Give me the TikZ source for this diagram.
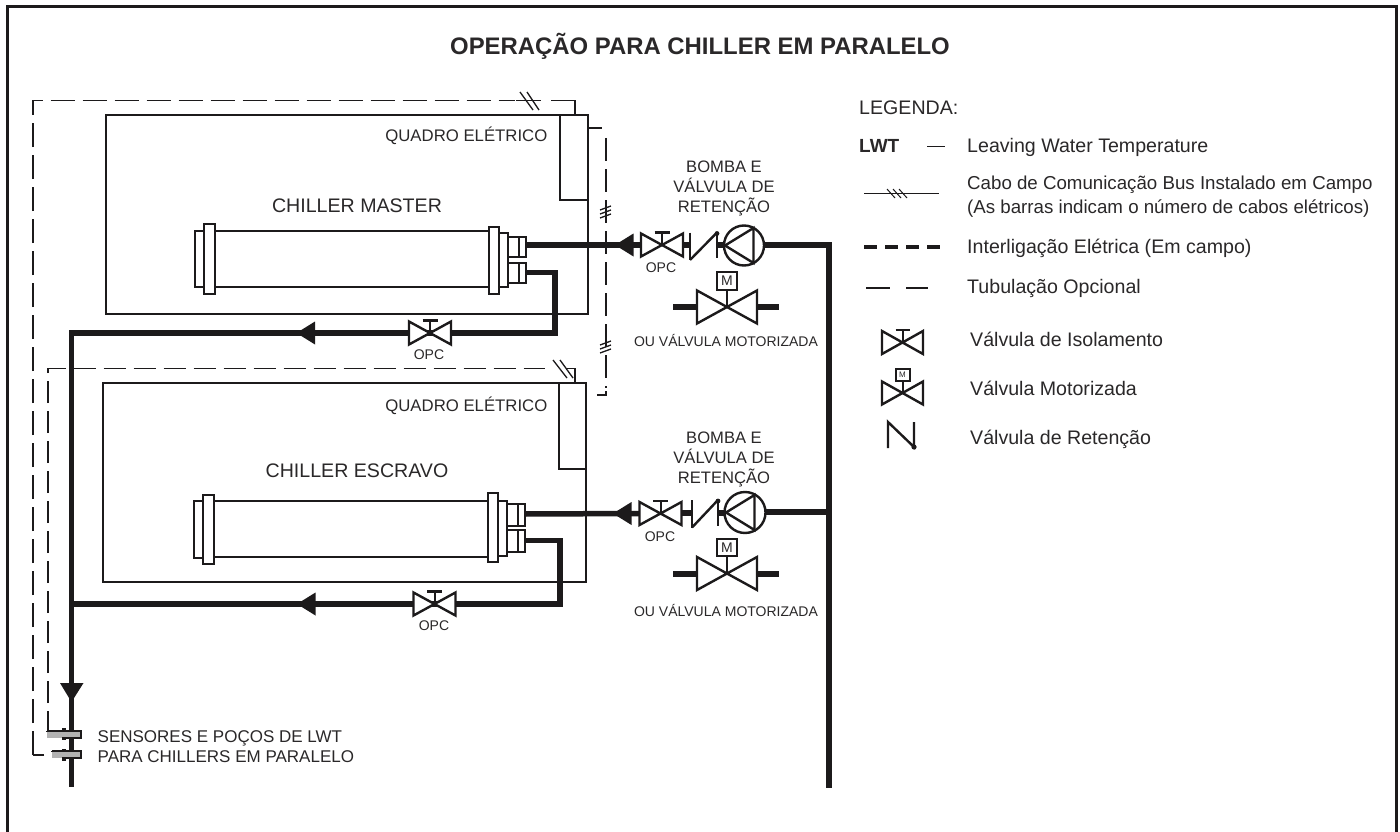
\documentclass[tikz,border=0pt]{standalone}
\usepackage{fontspec}
\setmainfont{Liberation Sans}
\usetikzlibrary{fit}
\definecolor{ink}{HTML}{1C1A1B}
\definecolor{txt}{HTML}{2A2829}
\tikzset{
  thin line/.style={draw=ink,line width=2pt},
  box/.style={draw=ink,line width=2pt,fill=white,inner sep=0pt,rectangle},
  plainbox/.style={draw=ink,line width=2pt,inner sep=0pt,rectangle},
  pipe/.style={draw=ink,line width=5.5pt},
  dashline/.style={draw=ink,line width=1.8pt,dash pattern=on 24pt off 8pt},
  wire/.style={draw=ink,line width=1.8pt},
  slash/.style={draw=ink,line width=1.3pt},
  lab/.style={text=txt,inner sep=0pt,font=\fontsize{16.75}{20}\selectfont,text height=12pt,text depth=0pt},
  big/.style={text=txt,inner sep=0pt,font=\fontsize{19.6}{23}\selectfont,text height=14pt,text depth=0pt},
  cab/.style={text=txt,inner sep=0pt,font=\fontsize{18.7}{22}\selectfont,text height=13.5pt,text depth=0pt},
  labs/.style={text=txt,inner sep=0pt,font=\fontsize{16.6}{20}\selectfont,text height=12pt,text depth=0pt},
  labo/.style={text=txt,inner sep=0pt,font=\fontsize{14}{17}\selectfont,text height=10pt,text depth=0pt},
}
\newcommand{\flowhead}[3]{\fill[ink,shift={(#1)},rotate=#2] (0,0) -- (18.5,-11.5) -- (18.5,11.5) -- cycle; \coordinate (#3) at (#1);}
\newcommand{\isovalve}[5]{\coordinate (#1) at (#2);
  \begin{scope}[shift={(#2)}]
  \draw[draw=ink,line width=2.4pt,fill=white,line join=miter] (-#3,-#4) -- (#3,#4) -- (#3,-#4) -- (-#3,#4) -- cycle;
  \draw[draw=ink,line width=2pt] (0,0) -- (0,-#4-1.2);
  \draw[draw=ink,line width=2.6pt] (-#5,-#4-1.2) -- (#5,-#4-1.2);
  \end{scope}}
\newcommand{\motvalve}[6]{\coordinate (#1) at (#2);
  \begin{scope}[shift={(#2)}]
  \draw[draw=ink,line width=2.4pt,fill=white,line join=miter] (-#3,-#4) -- (#3,#4) -- (#3,-#4) -- (-#3,#4) -- cycle;
  \draw[draw=ink,line width=2pt] (0,0) -- (0,-#4);
  \node[draw=ink,line width=2pt,fill=white,inner sep=0pt,minimum width=#5pt,minimum height=#5pt-2pt,anchor=south,text=txt] (#1m) at (0,-#4) {#6};
  \end{scope}}
\newcommand{\checkvalve}[6]{\coordinate (#1) at (#2);
  \begin{scope}[shift={(#2)}]
  \draw[draw=ink,line width=2.4pt] (0,#3) -- (0,#4);
  \draw[draw=ink,line width=2.4pt] (0,#4) -- (#5,#3);
  \draw[draw=ink,line width=2.4pt] (#5,#3) -- (#5,#6);
  \fill[ink] (#5,#3+1) circle (2.4pt);
  \end{scope}}
\newcommand{\pump}[3]{\coordinate (#1) at (#2);
  \begin{scope}[shift={(#2)}]
  \draw[draw=ink,line width=2.4pt,fill=white] (0,0) circle (#3pt);
  \draw[draw=ink,line width=2.4pt,line join=miter] (9.5,-17.5) -- (-19,0) -- (9.5,17.5) -- cycle;
  \end{scope}}
\begin{document}
\begin{tikzpicture}[x=1pt,y=-1pt]
\useasboundingbox (0,0) rectangle (1400,832);
\fill[white] (0,0) rectangle (1400,832);
% frame
\coordinate (fa) at (7.5,832); \coordinate (fb) at (7.5,7); \coordinate (fc) at (1396,7); \coordinate (fd) at (1396,832);
\draw[draw=ink,line width=3pt] (fa) -- (fb) -- (fc) -- (fd);
\node[text=txt,inner sep=0pt,font=\bfseries\fontsize{23.9}{28}\selectfont,text height=17pt,text depth=0pt] (title) at (700,46) {OPERAÇÃO PARA CHILLER EM PARALELO};

% chiller boxes
\coordinate (m1) at (106,115); \coordinate (m2) at (587.5,314);
\node[plainbox,fit={(m1)(m2)}] (master) {};
\coordinate (mp1) at (560,115); \coordinate (mp2) at (587.5,199.5);
\node[plainbox,fit={(mp1)(mp2)}] (mpanel) {};
\coordinate (s1) at (103,383); \coordinate (s2) at (586,582);
\node[plainbox,fit={(s1)(s2)}] (slave) {};
\coordinate (sp1) at (558.5,383); \coordinate (sp2) at (586,469);
\node[plainbox,fit={(sp1)(sp2)}] (spanel) {};

% field wiring
\coordinate (wa0) at (44,755); \coordinate (wa1) at (33,755); \coordinate (wa2) at (33,100.5); \coordinate (wa3) at (515,100.5);
\draw[wire] (wa0) -- (wa1);
\draw[dashline] (wa1) -- (wa2) -- (wa3);
\coordinate (wa4) at (516,100.5); \coordinate (wa5) at (541,100.5);
\draw[wire] (wa4) -- (wa5);
\coordinate (wa6) at (551,100.5); \coordinate (wa7) at (575,100.5); \coordinate (wa8) at (575,115);
\draw[wire] (wa6) -- (wa7) -- (wa8);
\draw[slash] (520,92) -- (533,110); \draw[slash] (527,92) -- (539,110);

\coordinate (wb0) at (48,733); \coordinate (wb1) at (48,368.5); \coordinate (wb2) at (545,368.5);
\draw[dashline,dash pattern=on 22pt off 8pt] (wb0) -- (wb1) -- (wb2);
\coordinate (wb3) at (566,368.5); \coordinate (wb4) at (575,368.5); \coordinate (wb5) at (575,383);
\draw[wire] (wb3) -- (wb4) -- (wb5);
\draw[slash] (553,360) -- (567,378); \draw[slash] (560,360) -- (573,378);

\coordinate (wc0) at (587.5,128); \coordinate (wc1) at (602,128);
\draw[wire] (wc0) -- (wc1);
\coordinate (wc2) at (606,138); \coordinate (wc3) at (606,388);
\draw[dashline,dash pattern=on 23pt off 8pt] (wc2) -- (wc3);
\coordinate (wc4) at (606,391); \coordinate (wc5) at (606,395); \coordinate (wc6) at (597,395);
\draw[wire] (wc4) -- (wc5) -- (wc6);
\foreach \y in {210,214,218}{\draw[slash] (600,\y) -- (611,\y-4);}
\foreach \y in {345,349,353}{\draw[slash] (600,\y) -- (611,\y-4);}

% pipes
\coordinate (mn1) at (526,245); \coordinate (mv1) at (641,245); \coordinate (mv2) at (683,245); \coordinate (mc1) at (690,245);
\coordinate (mc2) at (717,245); \coordinate (mp3) at (726,245); \coordinate (mp4) at (764,245); \coordinate (mj) at (829,245);
\coordinate (end2) at (829,788);
\draw[pipe] (mn1) -- (mv1); \draw[pipe] (mv2) -- (mc1); \draw[pipe] (mc2) -- (mp3);
\draw[pipe,line join=miter] (mp4) -- (mj) -- (end2);
\coordinate (mr1) at (526,272.5); \coordinate (mr2) at (555,272.5); \coordinate (mr3) at (555,333); \coordinate (mr4) at (71.5,333); \coordinate (end1) at (71.5,787);
\draw[pipe,line join=miter] (mr1) -- (mr2) -- (mr3) -- (mr4) -- (end1);
\coordinate (sn1) at (525,514); \coordinate (sv1) at (639,513.5); \coordinate (sv2) at (682,513); \coordinate (sc1) at (692,513);
\coordinate (sc2) at (718,513); \coordinate (sp3) at (726,513); \coordinate (sp4) at (765,512); \coordinate (sj) at (829,512);
\draw[pipe] (sn1) -- (sv1); \draw[pipe] (sv2) -- (sc1); \draw[pipe] (sc2) -- (sp3); \draw[pipe] (sp4) -- (sj);
\coordinate (sr1) at (525,540.5); \coordinate (sr2) at (560,540.5); \coordinate (sr3) at (560,604); \coordinate (sr4) at (71.5,604);
\draw[pipe,line join=miter] (sr1) -- (sr2) -- (sr3) -- (sr4);
\draw[pipe] (673,307) -- (697,307); \draw[pipe] (757,307) -- (779,307);
\draw[pipe] (673,574) -- (697,574); \draw[pipe] (757,574) -- (779,574);

% heat exchangers: master
\coordinate (mt1) at (215,231); \coordinate (mt2) at (489,287);
\node[plainbox,fit={(mt1)(mt2)}] (mtube) {};
\node[box,fit={(195,231)(204,287)}] (mcapl) {};
\node[box,fit={(204,224)(214.5,294)}] (mfll) {};
\node[box,fit={(489,227)(499,294)}] (mflr) {};
\node[box,fit={(499,233)(508,287)}] (mcapr) {};
\node[box,fit={(508,237)(526,256.5)}] (mnu) {};
\node[box,fit={(508,263)(526,283)}] (mnl) {};
\draw[thin line] (mnu.north) ++(2,0) -- ++(0,19.5);
\draw[thin line] (mnl.north) ++(2,0) -- ++(0,20);
% slave
\coordinate (st1) at (213,501); \coordinate (st2) at (488,557);
\node[plainbox,fit={(st1)(st2)}] (stube) {};
\node[box,fit={(194,501)(203,558)}] (scapl) {};
\node[box,fit={(203,495)(213.5,564)}] (sfll) {};
\node[box,fit={(488,493)(498,562)}] (sflr) {};
\node[box,fit={(498,501)(507,556)}] (scapr) {};
\node[box,fit={(507,504)(525,526)}] (snu) {};
\node[box,fit={(507,530)(525,552)}] (snl) {};
\draw[thin line] (snu.north) ++(2,0) -- ++(0,22);
\draw[thin line] (snl.north) ++(2,0) -- ++(0,22);

% flow arrows
\flowhead{615,245}{0}{ha1}
\flowhead{296.5,333}{0}{ha2}
\flowhead{613,513.5}{0}{ha3}
\flowhead{297,604}{0}{ha4}
\coordinate (hb1) at (60,683); \coordinate (hb2) at (83.5,683); \coordinate (hb3) at (71.5,702);
\fill[ink] (hb1) -- (hb2) -- (hb3) -- cycle;

% valves
\isovalve{v1}{662,245}{21}{11.5}{7.5}
\isovalve{v2}{430,333}{21}{11.5}{7.5}
\isovalve{v3}{660.5,513.5}{21}{11.5}{7.5}
\isovalve{v4}{434.5,604}{21}{11.5}{7.5}
\checkvalve{c1}{690,245}{-12.5}{15}{27}{13}
\checkvalve{c2}{692,513}{-13}{14.5}{26}{13}
\pump{p1}{744,245.5}{20}
\pump{p2}{745,512.5}{20.5}
\motvalve{mvv}{727,307}{30}{16.5}{19.5}{\fontsize{14}{14}\selectfont M}
\motvalve{svv}{727,573.5}{30}{16.5}{19.5}{\fontsize{14}{14}\selectfont M}

% LWT sensors
\foreach \ya/\yb/\xa in {730.7/737.7/47,751/758/52}{
  \fill[black!30] (\xa,\ya) rectangle (81,\yb);
  \draw[draw=ink,line width=1.6pt] (\xa,\ya) -- (81,\ya) -- (81,\yb) -- (62,\yb);
  \draw[draw=ink,line width=1.6pt] (\xa,\ya) -- (\xa,\ya+1) ;
  \fill[ink] (62,\ya-2.5) rectangle (65.5,\ya+1);
  \fill[ink] (62,\yb-1) rectangle (65.5,\yb+2.5);
}
% labels
\node[lab,anchor=east] (lq1) at (547.5,135.5) {QUADRO ELÉTRICO};
\node[lab,anchor=east] (lq2) at (547.5,405.5) {QUADRO ELÉTRICO};
\node[big] (lcm) at (357,205) {CHILLER MASTER};
\node[big] (lcs) at (357,470) {CHILLER ESCRAVO};
\node[labs] (b1) at (724,166) {BOMBA E};
\node[labs] (b2) at (724,186) {VÁLVULA DE};
\node[labs] (b3) at (724,206) {RETENÇÃO};
\node[labs] (b4) at (724,437) {BOMBA E};
\node[labs] (b5) at (724,457) {VÁLVULA DE};
\node[labs] (b6) at (724,477) {RETENÇÃO};
\node[labo] (o1) at (661,267) {OPC};
\node[labo] (o2) at (429,354) {OPC};
\node[labo] (o3) at (660,536) {OPC};
\node[labo] (o4) at (434,625) {OPC};
\node[labo] (u1) at (726,341) {OU VÁLVULA MOTORIZADA};
\node[labo] (u2) at (726,611) {OU VÁLVULA MOTORIZADA};
\node[labs,anchor=west,font=\fontsize{17}{20}\selectfont] (se1) at (97.5,736) {SENSORES E POÇOS DE LWT};
\node[labs,anchor=west,font=\fontsize{17}{20}\selectfont] (se2) at (97.5,756) {PARA CHILLERS EM PARALELO};

% legend
\node[big,anchor=west] (lg) at (859,108) {LEGENDA:};
\node[big,anchor=west,font=\bfseries\fontsize{19}{23}\selectfont] (lw) at (859,146) {LWT};
\coordinate (le1) at (927,146.5); \coordinate (le2) at (945,146.5);
\draw[draw=ink,line width=1.8pt] (le1) -- (le2);
\node[big,anchor=west] (t1) at (967,146) {Leaving Water Temperature};
\coordinate (le3) at (864,193.5); \coordinate (le4) at (939,193.5);
\draw[draw=ink,line width=1.8pt] (le3) -- (le4);
\foreach \x in {887,893,899}{\draw[slash,line width=1pt] (\x,189) -- (\x+8,198);}
\node[cab,anchor=west] (t2) at (967,183) {Cabo de Comunicação Bus Instalado em Campo};
\node[cab,anchor=west] (t3) at (967,207) {(As barras indicam o número de cabos elétricos)};
\coordinate (le5) at (864,247); \coordinate (le6) at (942,247);
\draw[draw=ink,line width=3.5pt,dash pattern=on 13pt off 8pt] (le5) -- (le6);
\node[big,anchor=west] (t4) at (967,246) {Interligação Elétrica (Em campo)};
\coordinate (le7) at (866,288); \coordinate (le8) at (890,288); \coordinate (le9) at (906,288); \coordinate (le10) at (928,288);
\draw[draw=ink,line width=2pt] (le7) -- (le8); \draw[draw=ink,line width=2pt] (le9) -- (le10);
\node[big,anchor=west] (t5) at (967,286) {Tubulação Opcional};
\isovalve{lv1}{902.5,342.5}{20.5}{11.5}{7}
\node[big,anchor=west] (t6) at (970,339) {Válvula de Isolamento};
\motvalve{lv2}{902.5,393}{20.5}{11.5}{14}{\fontsize{8}{8}\selectfont M}
\node[big,anchor=west] (t7) at (970,388) {Válvula Motorizada};
\coordinate (k1) at (888,448); \coordinate (k2) at (888,422); \coordinate (k3) at (914,447); \coordinate (k4) at (914,422);
\draw[draw=ink,line width=2.4pt] (k1) -- (k2) -- (k3) -- (k4);
\fill[ink] (k3) circle (2.6pt);
\node[big,anchor=west] (t8) at (970,437) {Válvula de Retenção};
\end{tikzpicture}
\end{document}
